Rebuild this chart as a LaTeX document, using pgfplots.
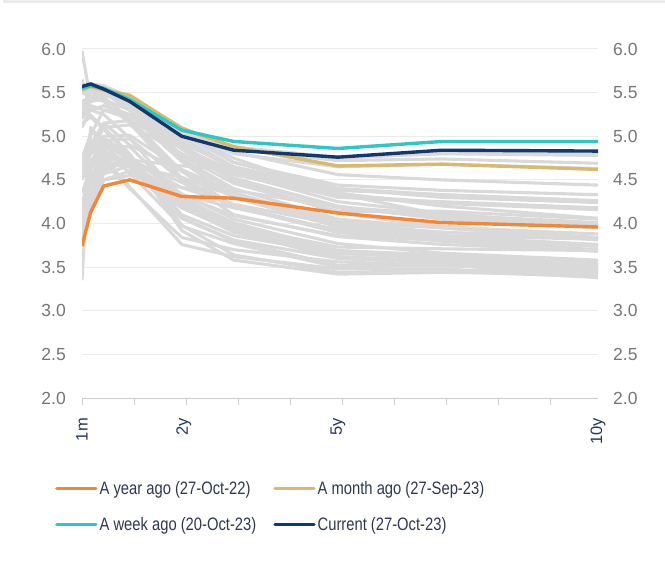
\documentclass[border=0pt]{standalone}
\usepackage{fontspec}
\setmainfont{Liberation Sans}
\newfontfamily\narrowfont[FakeStretch=0.82]{Liberation Sans}
\usepackage{pgfplots}
\pgfplotsset{compat=1.18}
\definecolor{yrago}{RGB}{245,134,52}
\definecolor{moago}{RGB}{214,186,112}
\definecolor{wkago}{RGB}{45,200,195}
\definecolor{current}{RGB}{18,57,110}
\definecolor{grayline}{RGB}{217,217,217}
\definecolor{gridc}{RGB}{235,235,235}
\definecolor{axisc}{RGB}{205,205,205}
\definecolor{ticklab}{RGB}{118,118,118}
\definecolor{xlab}{RGB}{35,55,90}
\definecolor{legtext}{RGB}{45,55,80}
\pgfplotsset{
  gc/.style={grayline, line width=3.1pt, forget plot, line join=round},
  hl/.style={line width=3.4pt, line join=round},
  commonaxis/.style={
    at={(82pt,165pt)}, anchor=south west, scale only axis,
    width=516pt, height=349pt,
    xmin=0.0833, xmax=10, ymin=2, ymax=6,
    ytick={2,2.5,3,3.5,4,4.5,5,5.5,6},
    ytick style={draw=none},
    /pgf/number format/assume math mode=true,
    y tick label style={/pgf/number format/fixed, /pgf/number format/fixed zerofill, /pgf/number format/precision=1},
  }
}
\begin{document}
\begin{tikzpicture}[x=1pt,y=1pt]
\useasboundingbox (0,0) rectangle (665,563);
\fill[gridc] (3,560) rectangle (665,563);
\begin{axis}[commonaxis,
  separate axis lines, axis x line*=bottom, axis y line*=left,
  x axis line style={axisc, line width=1pt},
  y axis line style={draw=none},
  ymajorgrids, grid style={gridc, line width=1pt},
  yticklabel style={font=\fontsize{17.5}{20}\selectfont, text=ticklab, anchor=east, inner sep=0pt, xshift=-9pt},
  xtick={0.0833,1.0833,2.0833,3.0833,4.0833,5.0833,6.0833,7.0833,8.0833,9.0833},
  xticklabels={},
  xtick style={axisc, line width=1pt}, tick align=outside, major tick length=7pt,
  extra x ticks={0.0833,2.04,5,10},
  extra x tick labels={1m,2y,5y,10y},
  extra x tick style={major tick length=0pt, xticklabel style={rotate=90, anchor=east, font=\fontsize{16.5}{18}\selectfont, text=xlab, inner sep=0pt, xshift=-20pt}},
  legend columns=2,
  legend cell align=left,
  legend image code/.code={\draw[#1, line cap=round] (1.5pt,0pt) -- (40.5pt,0pt);},
  legend style={at={(-0.0523,-0.232)}, anchor=north west, draw=none, fill=none, inner sep=0pt,
    font=\narrowfont\fontsize{18}{21}\selectfont, text=legtext, row sep=17.5pt,
    nodes={inner sep=2pt},
    /tikz/every even column/.append style={column sep=15pt}},
]
\addplot[gc] coordinates {(0.0833,3.80)(0.25,4.15)(0.5,4.50)(1,4.55)(2,4.41)(3,4.38)(5,4.19)(7,4.10)(10,4.01)};
\addplot[gc] coordinates {(0.0833,3.85)(0.25,4.20)(0.5,4.60)(1,4.73)(2,4.66)(3,4.62)(5,4.33)(7,4.24)(10,4.16)};
\addplot[gc] coordinates {(0.0833,3.75)(0.25,4.20)(0.5,4.50)(1,4.60)(2,4.33)(3,4.18)(5,3.93)(7,3.90)(10,3.82)};
\addplot[gc] coordinates {(0.0833,3.85)(0.25,4.25)(0.5,4.57)(1,4.66)(2,4.53)(3,4.31)(5,4.00)(7,3.90)(10,3.83)};
\addplot[gc] coordinates {(0.0833,3.90)(0.25,4.30)(0.5,4.65)(1,4.73)(2,4.47)(3,4.19)(5,3.90)(7,3.80)(10,3.68)};
\addplot[gc] coordinates {(0.0833,3.95)(0.25,4.25)(0.5,4.63)(1,4.70)(2,4.28)(3,4.01)(5,3.69)(7,3.60)(10,3.51)};
\addplot[gc] coordinates {(0.0833,4.05)(0.25,4.30)(0.5,4.72)(1,4.75)(2,4.34)(3,4.05)(5,3.77)(7,3.66)(10,3.58)};
\addplot[gc] coordinates {(0.0833,4.20)(0.25,4.32)(0.5,4.68)(1,4.65)(2,4.18)(3,3.94)(5,3.62)(7,3.55)(10,3.48)};
\addplot[gc] coordinates {(0.0833,4.10)(0.25,4.30)(0.5,4.70)(1,4.68)(2,4.32)(3,4.09)(5,3.86)(7,3.81)(10,3.75)};
\addplot[gc] coordinates {(0.0833,4.12)(0.25,4.42)(0.5,4.76)(1,4.73)(2,4.41)(3,4.22)(5,3.99)(7,3.96)(10,3.88)};
\addplot[gc] coordinates {(0.0833,4.20)(0.25,4.65)(0.5,4.78)(1,4.71)(2,4.25)(3,3.96)(5,3.69)(7,3.64)(10,3.56)};
\addplot[gc] coordinates {(0.0833,4.35)(0.25,4.62)(0.5,4.78)(1,4.67)(2,4.22)(3,3.94)(5,3.61)(7,3.56)(10,3.51)};
\addplot[gc] coordinates {(0.0833,4.52)(0.25,4.65)(0.5,4.80)(1,4.65)(2,4.18)(3,3.91)(5,3.60)(7,3.55)(10,3.48)};
\addplot[gc] coordinates {(0.0833,4.62)(0.25,4.68)(0.5,4.82)(1,4.70)(2,4.20)(3,3.90)(5,3.62)(7,3.57)(10,3.52)};
\addplot[gc] coordinates {(0.0833,4.58)(0.25,4.70)(0.5,4.88)(1,4.88)(2,4.30)(3,4.00)(5,3.66)(7,3.60)(10,3.53)};
\addplot[gc] coordinates {(0.0833,4.60)(0.25,4.71)(0.5,4.95)(1,4.97)(2,4.50)(3,4.20)(5,3.92)(7,3.83)(10,3.74)};
\addplot[gc] coordinates {(0.0833,4.65)(0.25,4.80)(0.5,5.00)(1,5.01)(2,4.62)(3,4.35)(5,4.02)(7,3.95)(10,3.82)};
\addplot[gc] coordinates {(0.0833,4.66)(0.25,4.83)(0.5,5.10)(1,5.13)(2,4.80)(3,4.52)(5,4.20)(7,4.05)(10,3.95)};
\addplot[gc] coordinates {(0.0833,4.70)(0.25,4.85)(0.5,5.15)(1,5.18)(2,4.86)(3,4.58)(5,4.25)(7,4.12)(10,3.96)};
\addplot[gc] coordinates {(0.0833,4.75)(0.25,5.02)(0.5,5.30)(1,5.25)(2,5.04)(3,4.75)(5,4.34)(7,4.10)(10,3.98)};
\addplot[gc] coordinates {(0.0833,4.50)(0.25,4.90)(0.5,5.15)(1,4.90)(2,4.60)(3,4.30)(5,3.96)(7,3.80)(10,3.70)};
\addplot[gc] coordinates {(0.0833,4.10)(0.25,4.50)(0.5,4.70)(1,4.40)(2,3.84)(3,3.70)(5,3.56)(7,3.52)(10,3.43)};
\addplot[gc] coordinates {(0.0833,3.95)(0.25,4.55)(0.5,4.75)(1,4.42)(2,3.76)(3,3.62)(5,3.48)(7,3.48)(10,3.38)};
\addplot[gc] coordinates {(0.0833,4.70)(0.25,4.80)(0.5,4.90)(1,4.64)(2,4.06)(3,3.81)(5,3.60)(7,3.55)(10,3.48)};
\addplot[gc] coordinates {(0.0833,4.10)(0.25,4.90)(0.5,4.85)(1,4.58)(2,3.97)(3,3.77)(5,3.50)(7,3.45)(10,3.39)};
\addplot[gc] coordinates {(0.0833,4.60)(0.25,5.05)(0.5,4.98)(1,4.78)(2,4.10)(3,3.86)(5,3.66)(7,3.60)(10,3.52)};
\addplot[gc] coordinates {(0.0833,3.80)(0.25,5.05)(0.5,4.95)(1,4.74)(2,4.18)(3,3.92)(5,3.66)(7,3.62)(10,3.57)};
\addplot[gc] coordinates {(0.0833,3.35)(0.25,5.10)(0.5,4.92)(1,4.72)(2,4.06)(3,3.80)(5,3.52)(7,3.52)(10,3.45)};
\addplot[gc] coordinates {(0.0833,5.15)(0.25,5.22)(0.5,5.08)(1,4.78)(2,3.92)(3,3.58)(5,3.42)(7,3.44)(10,3.42)};
\addplot[gc] coordinates {(0.0833,5.30)(0.25,5.24)(0.5,5.10)(1,4.80)(2,3.98)(3,3.64)(5,3.44)(7,3.46)(10,3.46)};
\addplot[gc] coordinates {(0.0833,5.65)(0.25,5.30)(0.5,5.25)(1,4.98)(2,4.28)(3,3.97)(5,3.73)(7,3.71)(10,3.69)};
\addplot[gc] coordinates {(0.0833,5.98)(0.25,5.40)(0.5,5.45)(1,5.20)(2,4.52)(3,4.20)(5,3.90)(7,3.86)(10,3.82)};
\addplot[gc] coordinates {(0.0833,5.50)(0.25,5.45)(0.5,5.40)(1,5.15)(2,4.50)(3,4.10)(5,3.85)(7,3.76)(10,3.69)};
\addplot[gc] coordinates {(0.0833,5.20)(0.25,5.35)(0.5,5.30)(1,5.20)(2,4.60)(3,4.20)(5,3.90)(7,3.80)(10,3.74)};
\addplot[gc] coordinates {(0.0833,5.10)(0.25,5.30)(0.5,5.35)(1,5.25)(2,4.71)(3,4.30)(5,3.99)(7,3.85)(10,3.76)};
\addplot[gc] coordinates {(0.0833,5.20)(0.25,5.40)(0.5,5.42)(1,5.30)(2,4.75)(3,4.35)(5,4.00)(7,3.86)(10,3.74)};
\addplot[gc] coordinates {(0.0833,5.24)(0.25,5.43)(0.5,5.47)(1,5.40)(2,4.87)(3,4.49)(5,4.13)(7,3.97)(10,3.81)};
\addplot[gc] coordinates {(0.0833,5.25)(0.25,5.45)(0.5,5.50)(1,5.40)(2,4.94)(3,4.63)(5,4.35)(7,4.20)(10,4.06)};
\addplot[gc] coordinates {(0.0833,5.30)(0.25,5.45)(0.5,5.50)(1,5.30)(2,4.74)(3,4.40)(5,4.05)(7,3.95)(10,3.83)};
\addplot[gc] coordinates {(0.0833,5.35)(0.25,5.50)(0.5,5.50)(1,5.35)(2,4.85)(3,4.50)(5,4.12)(7,3.96)(10,3.84)};
\addplot[gc] coordinates {(0.0833,5.40)(0.25,5.45)(0.5,5.50)(1,5.35)(2,4.88)(3,4.52)(5,4.18)(7,4.07)(10,3.96)};
\addplot[gc] coordinates {(0.0833,5.50)(0.25,5.50)(0.5,5.50)(1,5.36)(2,4.78)(3,4.46)(5,4.14)(7,4.14)(10,4.05)};
\addplot[gc] coordinates {(0.0833,5.50)(0.25,5.52)(0.5,5.50)(1,5.38)(2,4.89)(3,4.56)(5,4.31)(7,4.23)(10,4.16)};
\addplot[gc] coordinates {(0.0833,5.52)(0.25,5.52)(0.5,5.50)(1,5.40)(2,4.92)(3,4.65)(5,4.38)(7,4.33)(10,4.26)};
\addplot[gc] coordinates {(0.0833,5.55)(0.25,5.55)(0.5,5.55)(1,5.40)(2,5.05)(3,4.70)(5,4.40)(7,4.30)(10,4.24)};
\addplot[gc] coordinates {(0.0833,5.55)(0.25,5.55)(0.5,5.55)(1,5.35)(2,4.87)(3,4.60)(5,4.30)(7,4.25)(10,4.18)};
\addplot[gc] coordinates {(0.0833,5.55)(0.25,5.55)(0.5,5.55)(1,5.40)(2,4.98)(3,4.65)(5,4.40)(7,4.33)(10,4.26)};
\addplot[gc] coordinates {(0.0833,5.55)(0.25,5.55)(0.5,5.55)(1,5.40)(2,5.02)(3,4.70)(5,4.44)(7,4.38)(10,4.33)};
\addplot[gc] coordinates {(0.0833,5.55)(0.25,5.55)(0.5,5.55)(1,5.45)(2,5.10)(3,4.82)(5,4.56)(7,4.50)(10,4.44)};
\addplot[gc] coordinates {(0.0833,5.55)(0.25,5.57)(0.5,5.55)(1,5.45)(2,5.10)(3,4.86)(5,4.72)(7,4.74)(10,4.69)};
\addplot[gc] coordinates {(0.0833,5.55)(0.25,5.60)(0.5,5.58)(1,5.45)(2,5.08)(3,4.88)(5,4.75)(7,4.80)(10,4.78)};
\addplot[gc] coordinates {(0.0833,5.55)(0.25,5.60)(0.5,5.56)(1,5.40)(2,5.05)(3,4.80)(5,4.65)(7,4.68)(10,4.63)};
\addplot[gc] coordinates {(0.0833,5.56)(0.25,5.60)(0.5,5.55)(1,5.42)(2,5.05)(3,4.87)(5,4.76)(7,4.80)(10,4.80)};
\addplot[hl, yrago] coordinates {(0.0833,3.74)(0.25,4.13)(0.5,4.43)(1,4.50)(2,4.31)(3,4.29)(5,4.12)(7,4.01)(10,3.96)};
\addlegendentry{A year ago (27-Oct-22)}
\addplot[hl, moago] coordinates {(0.0833,5.53)(0.25,5.57)(0.5,5.53)(1,5.47)(2,5.09)(3,4.88)(5,4.66)(7,4.68)(10,4.62)};
\addlegendentry{A month ago (27-Sep-23)}
\addplot[hl, wkago] coordinates {(0.0833,5.55)(0.25,5.58)(0.5,5.55)(1,5.42)(2,5.07)(3,4.94)(5,4.86)(7,4.94)(10,4.94)};
\addlegendentry{A week ago (20-Oct-23)}
\addplot[hl, current] coordinates {(0.0833,5.57)(0.25,5.60)(0.5,5.54)(1,5.40)(2,5.00)(3,4.84)(5,4.76)(7,4.84)(10,4.83)};
\addlegendentry{Current (27-Oct-23)}
\end{axis}
\begin{axis}[commonaxis,
  hide x axis, axis y line*=right,
  y axis line style={draw=none},
  yticklabel style={font=\fontsize{17.5}{20}\selectfont, text=ticklab, anchor=west, inner sep=0pt, xshift=15pt},
]
\end{axis}
\end{tikzpicture}
\end{document}
